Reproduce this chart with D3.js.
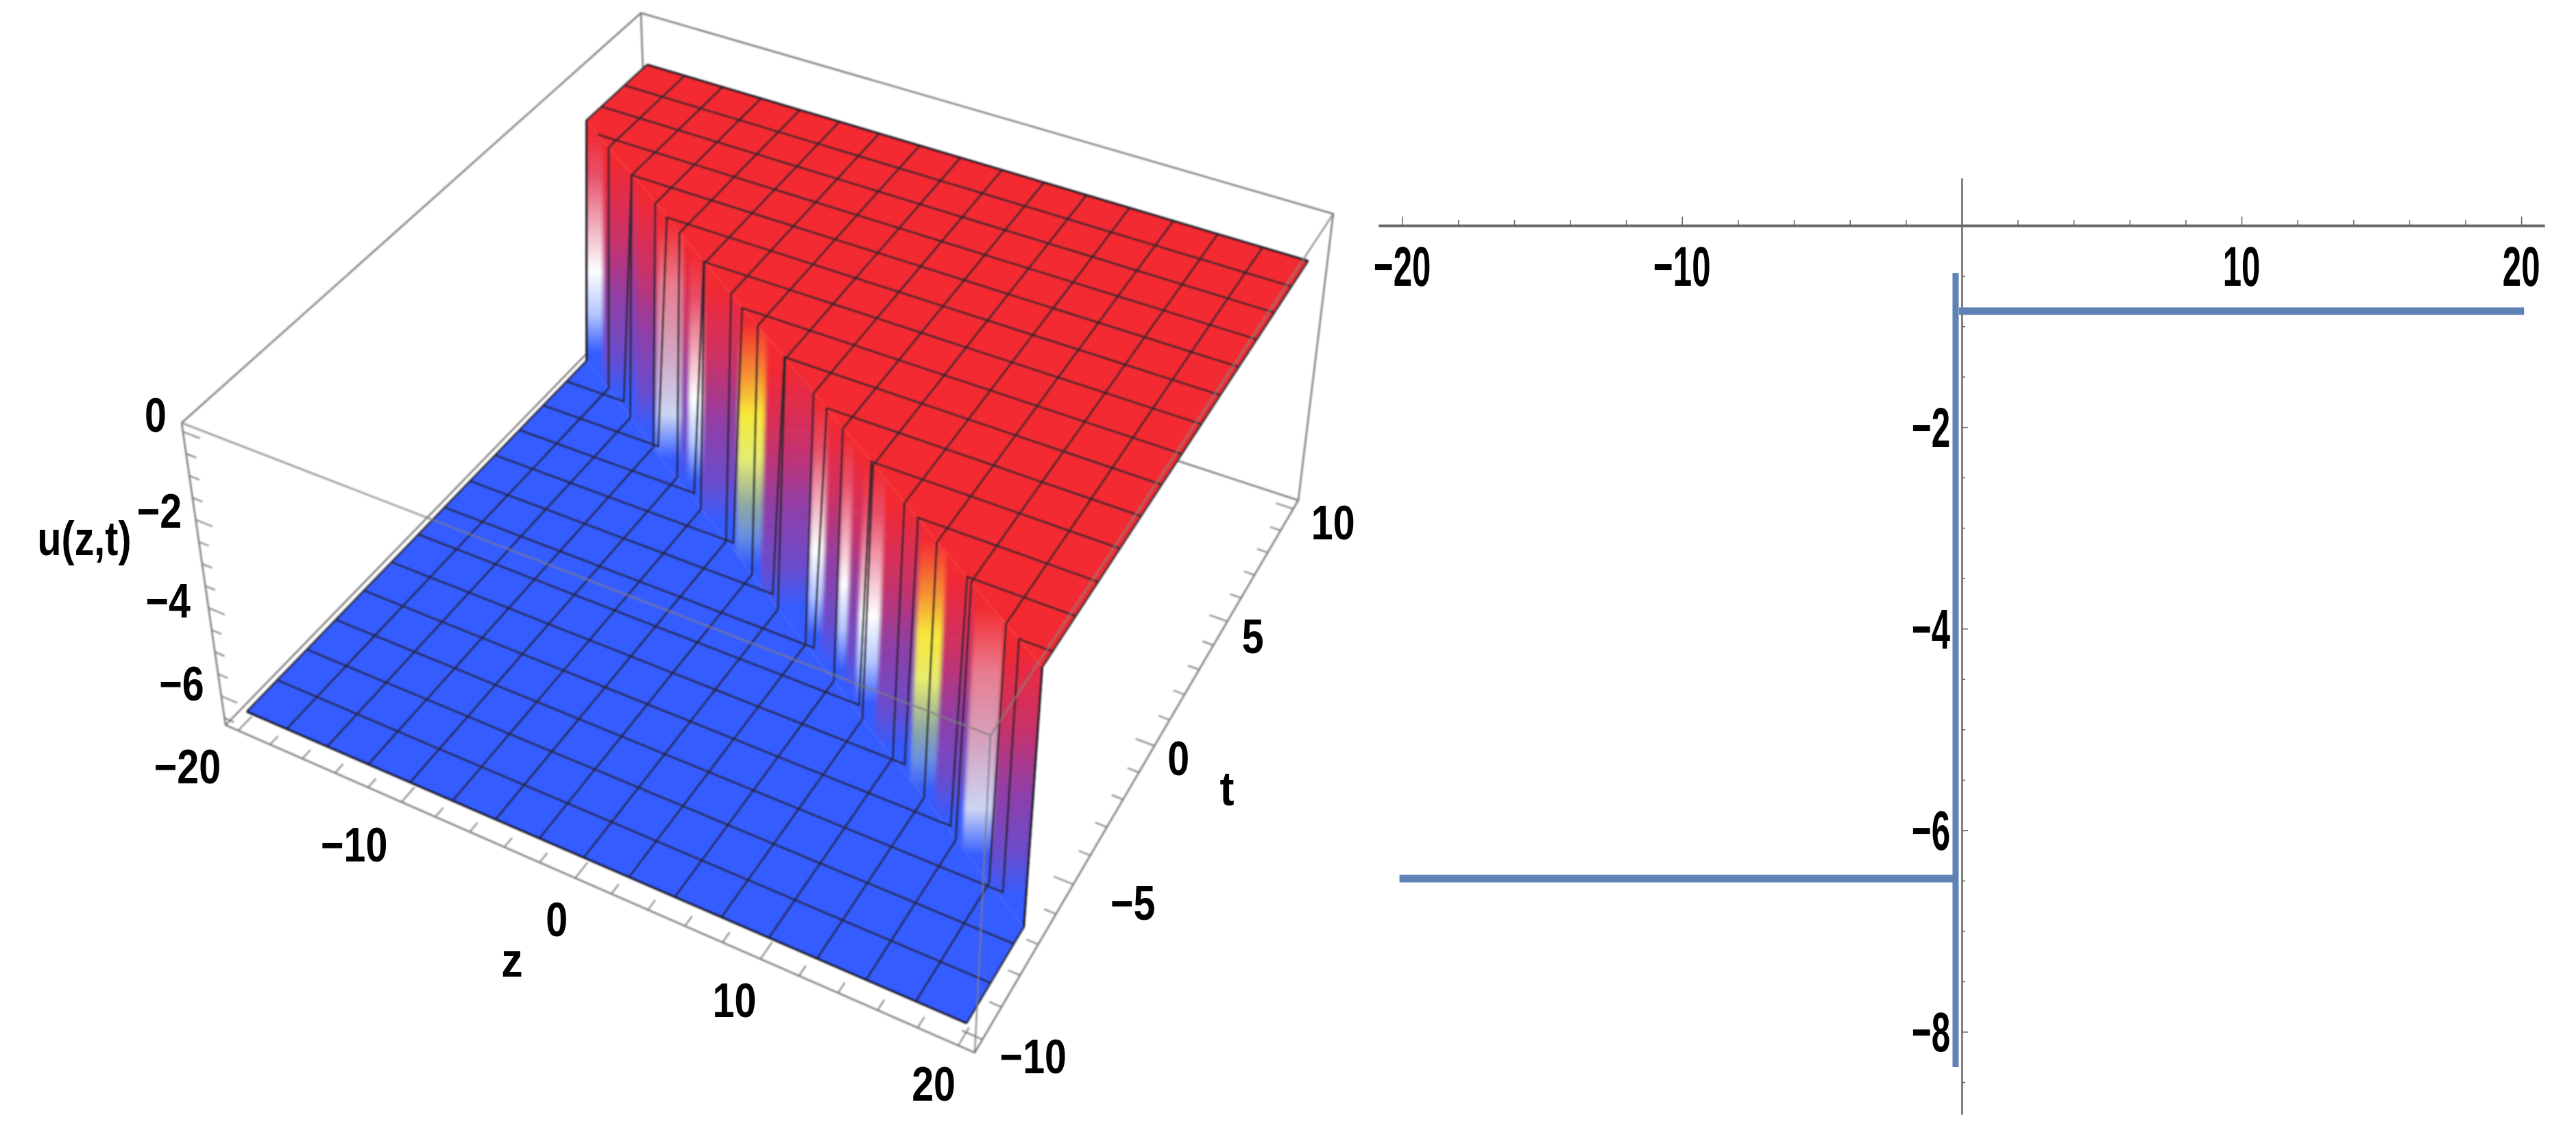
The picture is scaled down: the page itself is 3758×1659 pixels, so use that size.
<!DOCTYPE html>
<html>
<head>
<meta charset="utf-8">
<style>
html, body { margin: 0; padding: 0; background: #fff; }
svg { display: block; }
text { font-family: "Liberation Sans", Arial, sans-serif; font-weight: bold; fill: #000; }
</style>
<script src="https://cdn.jsdelivr.net/npm/d3@7/dist/d3.min.js"></script>
</head>
<body>
<div id="chart"></div>
<script>
// surface mesh
var zMesh = [-20, -17.5, -15, -12.5, -10, -7.5, -5, -2.5, 0, 2.5, 5, 7.5, 10, 12.5, 15, 17.5, 20];
var tMesh = [-10, -8.75, -7.5, -6.25, -5, -3.75, -2.5, -1.25, 0, 1.25, 2.5, 3.75, 5, 6.25, 7.5, 8.75, 10];
// where each mesh line leaves the low level and reaches the high level
var tLowByZ = [6.1, 5.3, 4.45, 3.65, 2.85, 2, 1.2, 0.4, -0.45, -1.25, -2.05, -2.9, -3.7, -4.5, -5.35, -6.15, -6.95];
var tHighByZ = [6.7, 5.85, 5, 4.15, 3.3, 2.45, 1.65, 0.8, -0.05, -0.9, -1.75, -2.6, -3.45, -4.3, -5.1, -5.95, -6.8];
var zLowByT = [null, null, null, 18.3, 14.4, 10.7, 6.9, 3, -0.8, -4.6, -8.5, -12.3, -16.1, null, null, null, null];
var zHighByT = [null, null, null, 18.4, 14.7, 11, 7.3, 3.6, -0.1, -3.9, -7.6, -11.3, -15, -18.7, null, null, null];
var redLevel = -0.84;
var blueLevel = -6.46;

// wall between the two levels, one entry per colour band
var wallZ = [-20, -18, -14.3, -12.1, -9.5, -8.8, -7.4, -4, -1.6, 2.7, 3.9, 5.2, 6, 6.9, 8.6, 11.4, 13.3, 15.5, 17.5, 20];
var wallTHigh = [6.7, 6, 4.8, 4.05, 3.15, 2.9, 2.45, 1.3, 0.5, -0.95, -1.35, -1.8, -2.05, -2.35, -2.95, -3.9, -4.55, -5.3, -5.95, -6.8];
var wallTLow = [6.1, 5.45, 4.25, 3.5, 2.65, 2.45, 2, 0.9, 0.1, -1.3, -1.7, -2.1, -2.4, -2.7, -3.25, -4.15, -4.75, -5.5, -6.15, -6.95];
var wallKind = ["pale", "purple", "purple", "mauve", "purple", "pale", "purple", "yellow", "purple", "pale", "purple", "pale", "purple", "pale", "purple", "yellow", "purple", "mauve", "purple"];

var zMajor = [-20, -10, 0, 10, 20];
var zMinor = [-18, -16, -14, -12, -8, -6, -4, -2, 2, 4, 6, 8, 12, 14, 16, 18];
var tMajor = [-10, -5, 0, 5, 10];
var tMinor = [-9, -8, -7, -6, -4, -3, -2, -1, 1, 2, 3, 4, 6, 7, 8, 9];
var uMajor = [0, -2, -4, -6];
var uMinor = [-0.5, -1, -1.5, -2.5, -3, -3.5, -4.5, -5, -5.5, -6.5];

// cross section on the right
var lineUpperZ = [-0.1, 20.1];
var lineUpperU = [-0.85, -0.85];
var lineLowerZ = [-20.1, -0.2];
var lineLowerU = [-6.48, -6.48];
var lineJumpZ = [-0.22, -0.22];
var lineJumpU = [-0.47, -8.35];
var crossXMajor = [-20, -10, 10, 20];
var crossXMinor = [-18, -16, -14, -12, -8, -6, -4, -2, 2, 4, 6, 8, 12, 14, 16, 18];
var crossYMajor = [-2, -4, -6, -8];
var crossYMinor = [-0.5, -1, -1.5, -2.5, -3, -3.5, -4.5, -5, -5.5, -6.5, -7, -7.5, -8.5];

var red = "#f32a30";
var blue = "#345cff";
var stops = {
  purple: [[0, red], [0.1, "#e62c44"], [0.3, "#cc3166"], [0.55, "#923ea4"], [0.8, "#6a4ccc"], [0.96, blue]],
  pale: [[0, red], [0.18, "#e8506a"], [0.38, "#f0a8b8"], [0.58, "#ffffff"], [0.76, "#b4c6ff"], [0.92, blue]],
  mauve: [[0, red], [0.25, "#e87c8e"], [0.55, "#d2a8c6"], [0.78, "#ccd6f4"], [0.96, blue]],
  yellow: [[0, red], [0.2, "#f58a30"], [0.37, "#f8e83a"], [0.55, "#e6ec70"], [0.74, "#8ea8a4"], [0.86, "#6a90e0"], [0.98, blue]]
};

var width = 3758, height = 1659;
var svg = d3.select("#chart").append("svg")
    .attr("width", width)
    .attr("height", height);
var defs = svg.append("defs");

defs.append("filter").attr("id", "soft")
    .append("feGaussianBlur").attr("stdDeviation", 0.8);
defs.append("filter").attr("id", "softer")
    .attr("x", "-5%").attr("width", "110%")
    .append("feGaussianBlur").attr("stdDeviation", 2.5);

// the box seen in the picture: top and bottom faces as screen quads
var topFace = [[265, 617], [1445, 1073], [1945, 312], [935, 19]];
var bottomFace = [[329, 1058], [1422, 1536], [1894, 730], [949, 420]];

var zLo = -20.8, zHi = 20.8, tLo = -10.4, tHi = 10.4, uTop = 0.2, uBot = -6.66;
var zScale = d3.scaleLinear().domain([zLo, zHi]).range([0, 1]);
var tScale = d3.scaleLinear().domain([tLo, tHi]).range([0, 1]);
var uScale = d3.scaleLinear().domain([uTop, uBot]).range([0, 1]);

function squareToQuad(q) {
  var dx1 = q[1][0] - q[2][0], dx2 = q[3][0] - q[2][0], sx = q[0][0] - q[1][0] + q[2][0] - q[3][0];
  var dy1 = q[1][1] - q[2][1], dy2 = q[3][1] - q[2][1], sy = q[0][1] - q[1][1] + q[2][1] - q[3][1];
  var den = dx1 * dy2 - dx2 * dy1;
  var g = (sx * dy2 - dx2 * sy) / den;
  var h = (dx1 * sy - sx * dy1) / den;
  return function(a, b) {
    var w = g * a + h * b + 1;
    return [
      (q[1][0] - q[0][0] + g * q[1][0]) * a / w + (q[3][0] - q[0][0] + h * q[3][0]) * b / w + q[0][0] / w,
      (q[1][1] - q[0][1] + g * q[1][1]) * a / w + (q[3][1] - q[0][1] + h * q[3][1]) * b / w + q[0][1] / w
    ];
  };
}
var topMap = squareToQuad(topFace);
var bottomMap = squareToQuad(bottomFace);

function project(z, t, u) {
  var a = zScale(z), b = tScale(t), f = uScale(u);
  var p = topMap(a, b), q = bottomMap(a, b);
  return [p[0] + (q[0] - p[0]) * f, p[1] + (q[1] - p[1]) * f];
}

var path = d3.line();
var plot = svg.append("g").attr("filter", "url(#soft)");

function boxLine(points, opacity) {
  plot.append("path")
      .attr("d", path(points.map(function(d) { return project(d[0], d[1], d[2]); })))
      .attr("fill", "none")
      .attr("stroke", "#7c7c7c")
      .attr("stroke-opacity", opacity || 1)
      .attr("stroke-width", 2.5);
}

// back of the box, hidden by the surface later
boxLine([[zLo, tLo, uBot], [zLo, tHi, uBot], [zHi, tHi, uBot]]);
boxLine([[zLo, tHi, uTop], [zLo, tHi, uBot]]);
boxLine([[zLo, tLo, uTop], [zLo, tHi, uTop], [zHi, tHi, uTop], [zHi, tHi, uBot], [zHi, tLo, uBot], [zLo, tLo, uBot], [zLo, tLo, uTop]]);

// flat levels
var wallLow = wallZ.map(function(z, i) { return project(z, wallTLow[i], blueLevel); });
var wallHigh = wallZ.map(function(z, i) { return project(z, wallTHigh[i], redLevel); });

plot.append("path")
    .attr("d", path([project(-20, -10, blueLevel), project(20, -10, blueLevel)].concat(wallLow.slice().reverse())) + "Z")
    .attr("fill", blue);
plot.append("path")
    .attr("d", path([project(-20, 10, redLevel), project(20, 10, redLevel)].concat(wallHigh.slice().reverse())) + "Z")
    .attr("fill", red);

// wall bands with their soft colour gradients
var wallOutline = wallHigh.concat(wallLow.slice().reverse());
defs.append("clipPath").attr("id", "wallClip")
    .append("path").attr("d", path(wallOutline) + "Z");

wallKind.forEach(function(kind, i) {
  var topY = (wallHigh[i][1] + wallHigh[i + 1][1]) / 2;
  var bottomY = (wallLow[i][1] + wallLow[i + 1][1]) / 2;
  var gradient = defs.append("linearGradient")
      .attr("id", "band" + i)
      .attr("gradientUnits", "userSpaceOnUse")
      .attr("x1", 0).attr("x2", 0)
      .attr("y1", topY).attr("y2", bottomY);
  gradient.selectAll("stop")
      .data(stops[kind])
      .enter()
      .append("stop")
      .attr("offset", function(d) { return d[0]; })
      .attr("stop-color", function(d) { return d[1]; });
});

// bands overshoot the clip so the blur never fades at the wall's outline
var overshoot = 24;
var wallGroup = plot.append("g").attr("clip-path", "url(#wallClip)")
    .append("g").attr("filter", "url(#softer)");
wallGroup.selectAll("path")
    .data(wallKind)
    .enter()
    .append("path")
    .attr("d", function(d, i) {
      var left = i === 0 ? overshoot : 0;
      var right = i === wallKind.length - 1 ? overshoot : 0;
      return path([
        [wallHigh[i][0] - left, wallHigh[i][1] - overshoot],
        [wallHigh[i + 1][0] + right, wallHigh[i + 1][1] - overshoot],
        [wallLow[i + 1][0] + right, wallLow[i + 1][1] + overshoot],
        [wallLow[i][0] - left, wallLow[i][1] + overshoot]
      ]) + "Z";
    })
    .attr("fill", function(d, i) { return "url(#band" + i + ")"; })
    .attr("stroke", function(d, i) { return "url(#band" + i + ")"; })
    .attr("stroke-width", 3);

// mesh
var meshLines = [];
tMesh.forEach(function(t, i) {
  var zLow = zLowByT[i], zHigh = zHighByT[i];
  if (zLow === null && zHigh === null) {
    var level = t > 0 ? redLevel : blueLevel;
    meshLines.push(zMesh.map(function(z) { return project(z, t, level); }));
  } else if (zLow === null) {
    meshLines.push([project(zHigh, t, redLevel)].concat(
      zMesh.filter(function(z) { return z > zHigh; }).map(function(z) { return project(z, t, redLevel); })));
  } else {
    var low = zMesh.filter(function(z) { return z < zLow; }).map(function(z) { return project(z, t, blueLevel); });
    var high = zMesh.filter(function(z) { return z > zHigh; }).map(function(z) { return project(z, t, redLevel); });
    meshLines.push(low.concat([project(zLow, t, blueLevel), project(zHigh, t, redLevel)], high));
  }
});
zMesh.forEach(function(z, i) {
  var tLow = tLowByZ[i], tHigh = tHighByZ[i];
  var low = tMesh.filter(function(t) { return t < tLow; }).map(function(t) { return project(z, t, blueLevel); });
  var high = tMesh.filter(function(t) { return t > tHigh; }).map(function(t) { return project(z, t, redLevel); });
  meshLines.push(low.concat([project(z, tLow, blueLevel), project(z, tHigh, redLevel)], high));
});
plot.selectAll("path.mesh")
    .data(meshLines)
    .enter()
    .append("path")
    .attr("class", "mesh")
    .attr("d", path)
    .attr("fill", "none")
    .attr("stroke", "#26262e")
    .attr("stroke-opacity", 0.92)
    .attr("stroke-width", 3);

// dark rim of the surface
var lastWall = wallZ.length - 1;
var rim = [
  [project(-20, -10, blueLevel), project(20, -10, blueLevel)],
  [project(-20, 10, redLevel), project(20, 10, redLevel)],
  [wallHigh[0], wallLow[0]],
  [wallHigh[lastWall], wallLow[lastWall]]
];
plot.selectAll("path.rim")
    .data(rim)
    .enter()
    .append("path")
    .attr("class", "rim")
    .attr("d", path)
    .attr("fill", "none")
    .attr("stroke", "#1c1c28")
    .attr("stroke-width", 3.2);

// front edges of the box lie over the surface
boxLine([[zLo, tLo, uTop], [zHi, tLo, uTop], [zHi, tHi, uTop]], 0.8);
boxLine([[zHi, tLo, uTop], [zHi, tLo, uBot]], 0.8);

// ticks along the three visible axes
function tickMarks(values, pos, size) {
  plot.append("g").selectAll("path")
      .data(values)
      .enter()
      .append("path")
      .attr("d", function(d) {
        var a = pos(d, 0), b = pos(d, size);
        return path([project(a[0], a[1], a[2]), project(b[0], b[1], b[2])]);
      })
      .attr("stroke", "#7c7c7c")
      .attr("stroke-width", 2);
}
function zPos(d, s) { return [d, tLo + s, uBot]; }
function tPos(d, s) { return [zHi - s, d, uBot]; }
function uPos(d, s) { return [zLo + s, tLo, d]; }
tickMarks(zMajor, zPos, 0.55);
tickMarks(zMinor, zPos, 0.33);
tickMarks(tMajor, tPos, 1);
tickMarks(tMinor, tPos, 0.6);
tickMarks(uMajor, uPos, 1);
tickMarks(uMinor, uPos, 0.6);

function label(str, x, y, size, squeeze) {
  return svg.append("text")
      .attr("text-anchor", "middle")
      .attr("font-size", size)
      .attr("transform", "translate(" + x + "," + (y + size * 0.35) + ") scale(" + squeeze + ",1)")
      .text(str);
}
function minusText(v) { return String(v).replace("-", "\u2212"); }

var plotFont = 70, plotSqueeze = 0.82;
// label offsets from the tick they belong to, one per tick
var zLabelShift = [[-74, 52], [-69, 62], [-27, 60], [-38, 60], [-36, 56]];
var tLabelShift = [[74, 25], [87, 27], [35, 18], [37, 22], [58, 20]];
var uLabelShift = [[-40, -24], [-53, -13], [-59, -11], [-58, -18]];

zMajor.forEach(function(v, i) {
  var p = project(v, tLo, uBot);
  label(minusText(v), p[0] + zLabelShift[i][0], p[1] + zLabelShift[i][1], plotFont, plotSqueeze);
});
tMajor.forEach(function(v, i) {
  var p = project(zHi, v, uBot);
  label(minusText(v), p[0] + tLabelShift[i][0], p[1] + tLabelShift[i][1], plotFont, plotSqueeze);
});
uMajor.forEach(function(v, i) {
  var p = project(zLo, tLo, v);
  label(minusText(v), p[0] + uLabelShift[i][0], p[1] + uLabelShift[i][1], plotFont, plotSqueeze);
});
label("z", 747, 1400, plotFont, 0.9);
label("t", 1790, 1150, plotFont, 0.9);
label("u(z,t)", 123, 785, plotFont, plotSqueeze);

// cross section
var crossX = d3.scaleLinear().domain([-20.85, 20.83]).range([2011, 3712]);
var crossY = d3.scaleLinear().domain([0.47, -8.82]).range([260, 1626]);

var lineGen = d3.line()
    .x(function(d) { return crossX(d[0]); })
    .y(function(d) { return crossY(d[1]); });

function axisStyle(sel, w) {
  sel.selectAll("path, line").attr("stroke", "#6a6a6a");
  sel.select(".domain").attr("stroke-width", w);
  sel.selectAll("line").attr("stroke-width", 1.6);
}

function drawCross(zs, us, w) {
  svg.append("path")
      .attr("d", lineGen(zs.map(function(z, i) { return [z, us[i]]; })))
      .attr("fill", "none")
      .attr("stroke", "#5f82b6")
      .attr("stroke-width", w);
}

var xAxisY = crossY(0), yAxisX = crossX(0);
svg.append("g").attr("transform", "translate(0," + xAxisY + ")")
    .call(d3.axisTop(crossX).tickValues(crossXMinor).tickSize(8).tickSizeOuter(0).tickFormat(""))
    .call(axisStyle, 3.5);
svg.append("g").attr("transform", "translate(0," + xAxisY + ")")
    .call(d3.axisTop(crossX).tickValues(crossXMajor).tickSize(13).tickSizeOuter(0).tickFormat(""))
    .call(axisStyle, 3.5);
svg.append("g").attr("transform", "translate(" + yAxisX + ",0)")
    .call(d3.axisRight(crossY).tickValues(crossYMinor).tickSize(5).tickSizeOuter(0).tickFormat(""))
    .call(axisStyle, 2);
svg.append("g").attr("transform", "translate(" + yAxisX + ",0)")
    .call(d3.axisRight(crossY).tickValues(crossYMajor).tickSize(9).tickSizeOuter(0).tickFormat(""))
    .call(axisStyle, 2);

drawCross(lineUpperZ, lineUpperU, 11);
drawCross(lineLowerZ, lineLowerU, 11);
drawCross(lineJumpZ, lineJumpU, 9);

var crossFont = 82, crossSqueeze = 0.6;
crossXMajor.forEach(function(v) {
  label(minusText(v), crossX(v), 388, crossFont, crossSqueeze);
});
crossYMajor.forEach(function(v) {
  svg.append("text")
      .attr("text-anchor", "end")
      .attr("font-size", crossFont)
      .attr("transform", "translate(2845," + (crossY(v) + crossFont * 0.35) + ") scale(" + crossSqueeze + ",1)")
      .text(minusText(v));
});
</script>
</body>
</html>
